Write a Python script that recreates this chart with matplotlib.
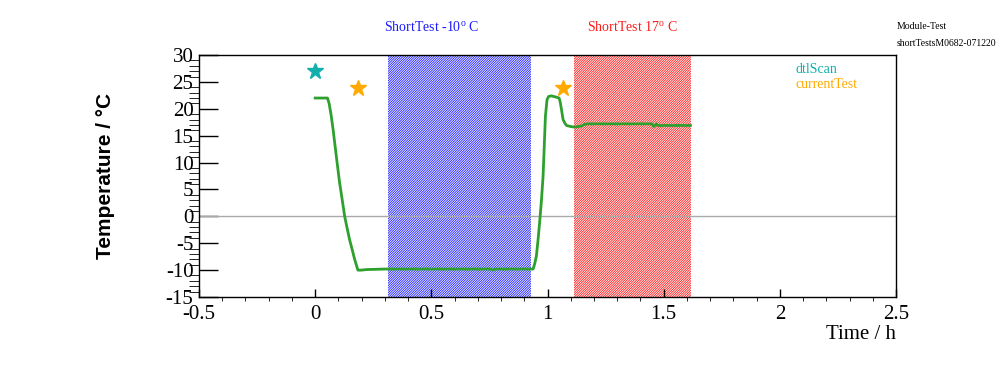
import matplotlib.pyplot as plt
from matplotlib.ticker import MultipleLocator

# temperature trace (time in h, temperature in deg C)
time_h = [0.0, 0.053, 0.060, 0.068, 0.077, 0.091, 0.105, 0.116, 0.127, 0.138, 0.148,
          0.160, 0.170, 0.184, 0.20, 0.22, 0.30, 0.40, 0.50, 0.60, 0.70, 0.755, 0.764,
          0.775, 0.85, 0.938, 0.945, 0.952, 0.959, 0.966, 0.974, 0.981, 0.986, 0.991,
          0.998, 1.005, 1.017, 1.035, 1.050, 1.055, 1.060, 1.067, 1.075, 1.082, 1.10,
          1.117, 1.146, 1.160, 1.174, 1.25, 1.35, 1.45, 1.457, 1.462, 1.47, 1.475,
          1.50, 1.55, 1.615]
temp_c = [22.0, 22.0, 21.0, 19.0, 16.2, 11.2, 6.3, 3.2, 0.0, -2.3, -4.3,
          -6.3, -8.0, -10.0, -10.0, -9.9, -9.8, -9.8, -9.8, -9.8, -9.8, -9.8, -10.0,
          -9.8, -9.8, -9.8, -8.8, -7.4, -4.5, -1.2, 3.0, 7.5, 13.0, 18.6,
          21.7, 22.3, 22.4, 22.2, 22.0, 21.2, 19.9, 18.0, 17.3, 16.9, 16.7,
          16.6, 16.8, 17.1, 17.2, 17.2, 17.2, 17.2, 16.7, 16.9, 17.2, 16.9,
          16.9, 16.9, 16.9]

# test markers
dtl_time, dtl_temp = [0.0], [27.1]
cur_time, cur_temp = [0.183, 1.065], [23.8, 23.8]

# short-test windows
cold_window = (0.312, 0.928)
warm_window = (1.113, 1.616)

serif = ["Liberation Serif", "DejaVu Serif"]
plt.rcParams["hatch.linewidth"] = 0.6
plt.rcParams["mathtext.fontset"] = "custom"
plt.rcParams["mathtext.rm"] = "Liberation Serif"

fig = plt.figure(figsize=(9.96, 3.72), dpi=100)
ax = fig.add_axes([0.1998, 0.2016, 0.6998, 0.6505])

ax.axvspan(*cold_window, facecolor="none", edgecolor="#1a1aff", hatch="/" * 14, linewidth=0)
ax.axvspan(*warm_window, facecolor="none", edgecolor="#ff1a1a", hatch="/" * 14, linewidth=0)
ax.axhline(0, color="#aaaaaa", linewidth=1)

ax.plot(time_h, temp_c, color="#2ea02e", linewidth=2)
ax.plot(dtl_time, dtl_temp, linestyle="none", marker="*", markersize=12, color="#12b0ac")
ax.plot(cur_time, cur_temp, linestyle="none", marker="*", markersize=12, color="#ffaa00")

ax.set_xlim(-0.5, 2.5)
ax.set_ylim(-15, 30)
ax.xaxis.set_minor_locator(MultipleLocator(0.1))
ax.yaxis.set_minor_locator(MultipleLocator(1))
ax.tick_params(axis="both", direction="in", top=False, right=False, labelsize=15, width=1)
ax.tick_params(axis="x", which="major", length=6, pad=6)
ax.tick_params(axis="x", which="minor", length=3)
ax.tick_params(axis="y", which="major", length=13.5, pad=4)
ax.tick_params(axis="y", which="minor", length=7)
ax.set_xticks([-0.5, 0, 0.5, 1, 1.5, 2, 2.5])
ax.set_xticklabels(["-0.5", "0", "0.5", "1", "1.5", "2", "2.5"], family=serif)
ax.set_yticks(range(-15, 31, 5))
ax.set_yticklabels([str(v) for v in range(-15, 31, 5)], family=serif)
for s in ax.spines.values():
    s.set_linewidth(1)

fig.text(0.1055, 0.5269, "Temperature / °C", rotation=90, ha="center", va="center",
         fontsize=15, fontweight="bold", family=["Liberation Sans", "DejaVu Sans"])
fig.text(0.8996, 0.0995, "Time / h", ha="right", va="center", fontsize=15, family=serif)

fig.text(0.433, 0.925, r"ShortTest -10$^{\rm o}$ C", ha="center", va="center",
         fontsize=10, color="#1a1aff", family=serif)
fig.text(0.635, 0.925, r"ShortTest 17$^{\rm o}$ C", ha="center", va="center",
         fontsize=10, color="#ff1a1a", family=serif)
fig.text(0.9, 0.928, "Module-Test", ha="left", va="center", fontsize=7, family=serif)
fig.text(0.9, 0.884, "shortTestsM0682-071220", ha="left", va="center", fontsize=7, family=serif)

fig.text(0.799, 0.812, "dtlScan", ha="left", va="center", fontsize=10, color="#12b0ac", family=serif)
fig.text(0.799, 0.772, "currentTest", ha="left", va="center", fontsize=10, color="#ffaa00", family=serif)

fig.savefig("out.png", dpi=100)
